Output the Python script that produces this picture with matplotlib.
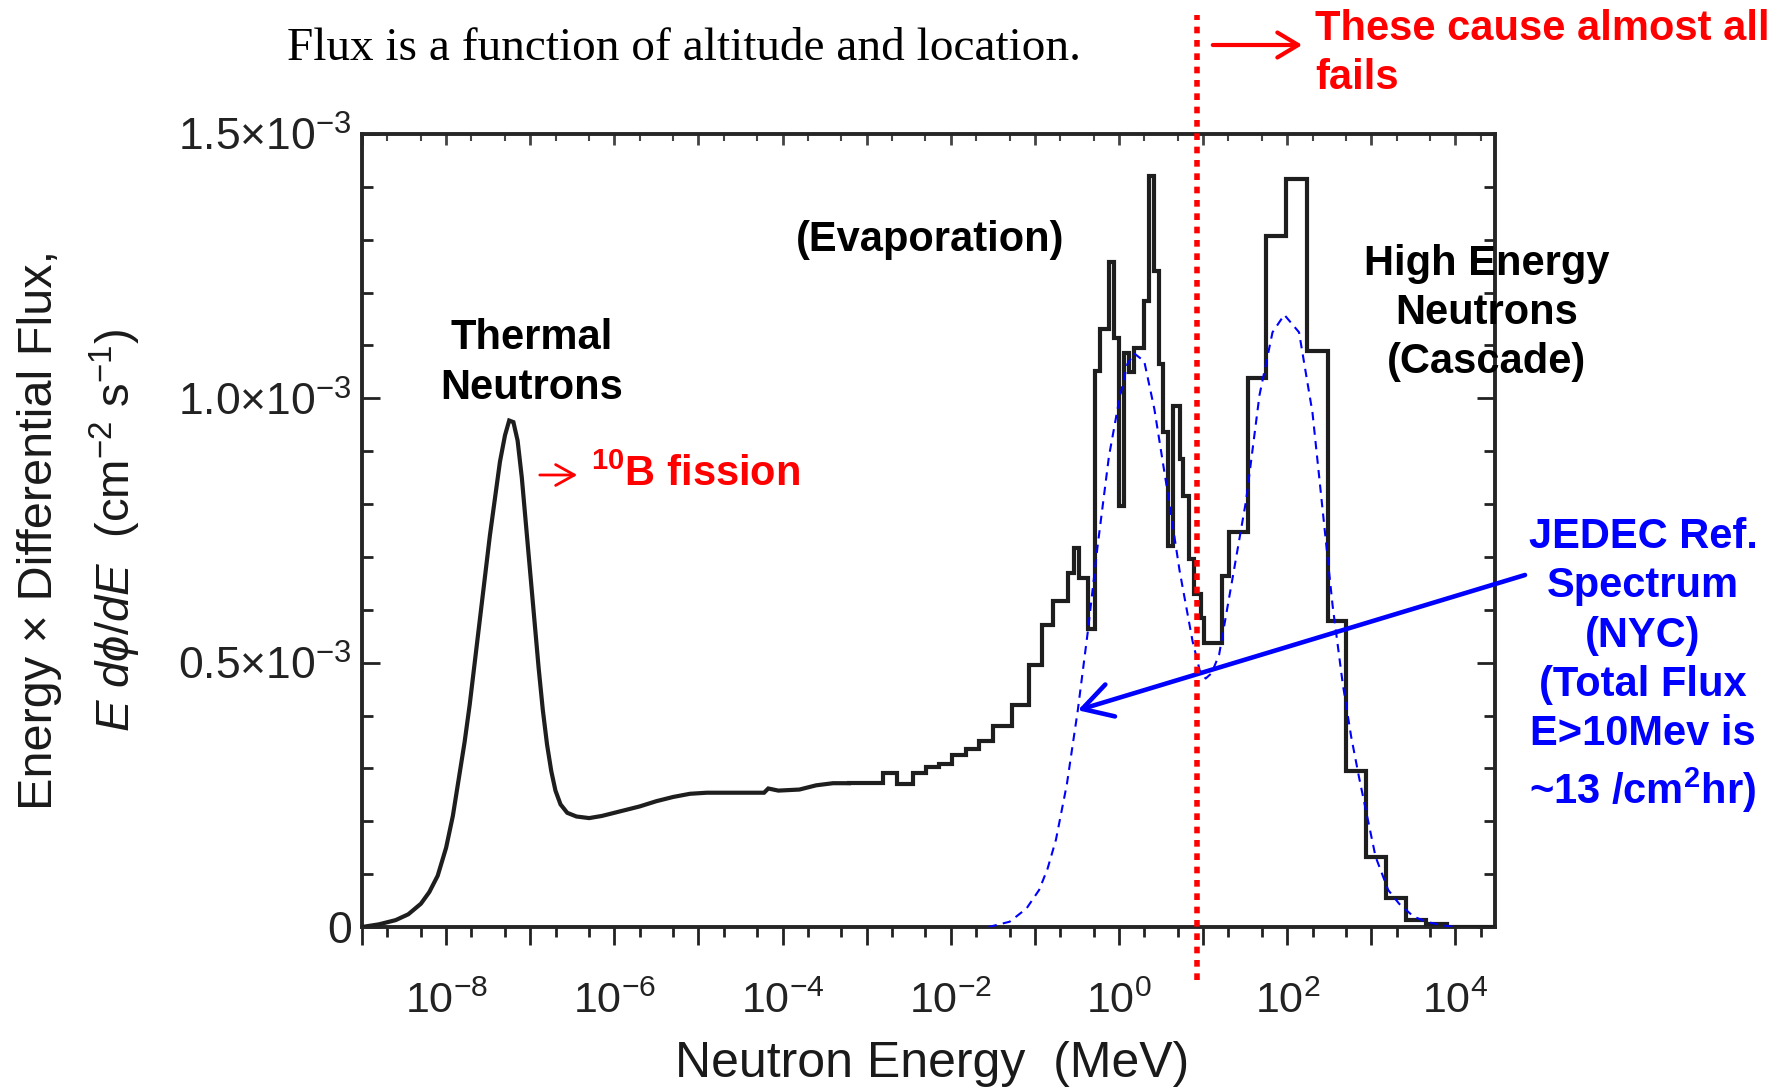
import numpy as np
import matplotlib.pyplot as plt
from matplotlib.ticker import FixedLocator, LogLocator, MultipleLocator, NullFormatter

plt.rcParams['font.family'] = ['Liberation Sans', 'DejaVu Sans']
plt.rcParams['mathtext.fontset'] = 'custom'
plt.rcParams['mathtext.rm'] = 'Liberation Sans'
plt.rcParams['mathtext.it'] = 'Liberation Sans:italic'
plt.rcParams['mathtext.bf'] = 'Liberation Sans:bold'

W, H = 1783, 1089

# measured spectrum, thermal + epithermal part (fine binning, drawn as a curve)
# log10(E / MeV) and E dphi/dE in 1e-3 /cm2/s
epi_log_e = [-9.0, -8.8, -8.6, -8.45, -8.3, -8.2, -8.1, -8.0, -7.92, -7.85,
             -7.78, -7.72, -7.66, -7.6, -7.54, -7.48, -7.42, -7.36, -7.3, -7.25,
             -7.2, -7.15, -7.1, -7.05, -7.0, -6.95, -6.9, -6.85, -6.8, -6.75,
             -6.7, -6.64, -6.56, -6.45, -6.3, -6.15, -6.0, -5.85, -5.7, -5.5,
             -5.3, -5.1, -4.9, -4.22, -4.17, -4.05, -3.8, -3.6, -3.4, -3.21]
epi_flux = [0.0, 0.005, 0.013, 0.024, 0.044, 0.066, 0.097, 0.15, 0.21, 0.28,
            0.35, 0.42, 0.50, 0.58, 0.66, 0.74, 0.81, 0.88, 0.93, 0.958,
            0.955, 0.92, 0.85, 0.76, 0.67, 0.58, 0.49, 0.41, 0.345, 0.295,
            0.258, 0.232, 0.216, 0.209, 0.206, 0.21, 0.216, 0.222, 0.228, 0.238,
            0.246, 0.252, 0.254, 0.254, 0.262, 0.258, 0.26, 0.268, 0.272, 0.272]

# measured spectrum, fast part (coarse bins, drawn as steps)
fast_log_e = [-3.21, -2.81, -2.64, -2.455, -2.3, -2.14, -1.98, -1.82, -1.66, -1.5,
              -1.27, -1.07, -0.91, -0.79, -0.61, -0.53, -0.47, -0.37, -0.29, -0.23,
              -0.12, -0.06, 0.0, 0.06, 0.12, 0.18, 0.3, 0.36, 0.42, 0.48,
              0.52, 0.58, 0.64, 0.72, 0.76, 0.835, 0.894, 0.974, 1.013, 1.23,
              1.31, 1.53, 1.75, 1.985, 2.24, 2.48, 2.7, 2.94, 3.17, 3.41,
              3.65, 3.9, 4.47]
fast_flux = [0.272, 0.292, 0.27, 0.292, 0.302, 0.308, 0.326, 0.337, 0.351, 0.381,
             0.42, 0.495, 0.571, 0.617, 0.67, 0.717, 0.66, 0.564, 1.052, 1.132,
             1.258, 1.115, 0.797, 1.085, 1.049, 1.095, 1.185, 1.421, 1.241, 1.065,
             0.936, 0.72, 0.986, 0.886, 0.816, 0.697, 0.63, 0.584, 0.537, 0.664,
             0.747, 1.039, 1.307, 1.415, 1.089, 0.578, 0.296, 0.133, 0.054, 0.014,
             0.006, 0.0, 0.0]

# JEDEC reference spectrum (NYC)
jedec_log_e = [-1.55, -1.3, -1.1, -0.95, -0.85, -0.75, -0.62, -0.49, -0.37, -0.255,
               -0.12, 0.0, 0.1, 0.18, 0.3, 0.42, 0.5, 0.6, 0.72, 0.874,
               0.96, 1.03, 1.1, 1.19, 1.35, 1.51, 1.67, 1.825, 1.965, 2.14,
               2.3, 2.42, 2.54, 2.66, 2.76, 2.855, 3.05, 3.2, 3.33, 3.5,
               3.65, 3.85, 4.0]
jedec_flux = [0.0, 0.01, 0.035, 0.07, 0.11, 0.165, 0.27, 0.41, 0.56, 0.72,
              0.89, 0.995, 1.065, 1.085, 1.07, 0.98, 0.9, 0.8, 0.674, 0.541,
              0.485, 0.47, 0.48, 0.515, 0.66, 0.806, 1.006, 1.125, 1.158, 1.125,
              0.973, 0.79, 0.607, 0.46, 0.36, 0.282, 0.133, 0.07, 0.044, 0.02,
              0.01, 0.003, 0.0]

cut_log_e = 0.93  # threshold marked by the red line

x_major = [10.0 ** k for k in range(-9, 5)]
x_labels = [r'$10^{%d}$' % k if k % 2 == 0 else '' for k in range(-9, 5)]
y_major = [0, 0.5e-3, 1.0e-3, 1.5e-3]
y_labels = [r'0$\qquad$', '0.5×10$^{-3}$', '1.0×10$^{-3}$', '1.5×10$^{-3}$']


def fpx(x, y):
    return x / W, 1 - y / H


fig = plt.figure(figsize=(W / 100, H / 100), dpi=100)
ax = fig.add_axes([362 / W, 1 - 927 / H, (1495 - 362) / W, (927 - 134) / H])

line_kw = dict(color='#1e1e1e', lw=3.0, zorder=3, solid_joinstyle='miter')
ax.plot(10.0 ** np.array(epi_log_e), np.array(epi_flux) * 1e-3, **line_kw)
ax.step(10.0 ** np.array(fast_log_e), np.array(fast_flux) * 1e-3, where='post',
        **line_kw)
ax.plot(10.0 ** np.array(jedec_log_e), np.array(jedec_flux) * 1e-3,
        color='#0000ff', lw=1.5, ls=(0, (4, 3)), zorder=4)

ax.set_xscale('log')
ax.set_xlim(1e-9, 10 ** 4.47)
ax.set_ylim(0, 1.5e-3)

ax.xaxis.set_major_locator(FixedLocator(x_major))
ax.set_xticklabels(x_labels)
ax.xaxis.set_minor_locator(LogLocator(base=10, subs=(2, 5), numticks=30))
ax.xaxis.set_minor_formatter(NullFormatter())
ax.set_yticks(y_major)
ax.set_yticklabels(y_labels)
ax.yaxis.set_minor_locator(MultipleLocator(1e-4))

ax.tick_params(axis='x', which='major', direction='out', length=13, width=2,
               color='#222222', labelsize=31, labelcolor='#222222', pad=26)
ax.tick_params(axis='x', which='minor', direction='out', length=7, width=2,
               color='#222222')
ax.tick_params(axis='y', which='major', direction='in', length=13, width=2,
               color='#222222', labelsize=32, labelcolor='#222222', pad=7,
               left=True, right=True)
ax.tick_params(axis='y', which='minor', direction='in', length=8, width=2,
               color='#222222', left=True, right=True)

top = ax.secondary_xaxis('top')
top.xaxis.set_major_locator(FixedLocator(x_major))
top.xaxis.set_minor_locator(LogLocator(base=10, subs=(2, 5), numticks=30))
top.tick_params(which='major', direction='in', length=8, width=2, color='#444444',
                labeltop=False)
top.tick_params(which='minor', direction='in', length=5, width=1.5, color='#444444')
top.spines['top'].set_visible(False)

for s in ax.spines.values():
    s.set_linewidth(2.8)
    s.set_color('#262626')

ax.set_xlabel('Neutron Energy  (MeV)', fontsize=36, color='#1a1a1a')
ax.xaxis.set_label_coords(0.503, -0.144)

fig.text(*fpx(40, 530), 'Energy × Differential Flux,', rotation=90, fontsize=35,
         ha='center', va='center', color='#1a1a1a')
fig.text(*fpx(115, 530), r'$E\ d\phi/dE$  (cm$^{-2}$ s$^{-1}$)', rotation=90,
         fontsize=34, ha='center', va='center', color='#1a1a1a')

fig.text(*fpx(684, 60), 'Flux is a function of altitude and location.',
         family=['Liberation Serif', 'DejaVu Serif'], fontsize=34,
         ha='center', va='baseline')

# red threshold line with its note
ax.plot([10 ** cut_log_e] * 2, [-0.1e-3, 1.726e-3], color='#ff0000', lw=4,
        ls=(0, (1.2, 1.2)), clip_on=False, zorder=6)
ax.annotate('', xy=fpx(1305, 45), xycoords='figure fraction',
            xytext=fpx(1210, 45), textcoords='figure fraction',
            arrowprops=dict(arrowstyle='->,head_length=0.5,head_width=0.3',
                            color='#ff0000', lw=3, mutation_scale=30))
fig.text(*fpx(1315, 9), 'These cause almost all\nfails', color='#ff0000',
         fontsize=30, fontweight='bold', ha='left', va='top', linespacing=1.3)

ax.text(*fpx(532, 363), 'Thermal\nNeutrons', transform=fig.transFigure,
        fontsize=30, fontweight='bold', ha='center', va='center', linespacing=1.3)
ax.text(*fpx(930, 240), '(Evaporation)', transform=fig.transFigure,
        fontsize=30, fontweight='bold', ha='center', va='center')
ax.text(*fpx(1487, 313), 'High Energy\nNeutrons\n(Cascade)', transform=fig.transFigure,
        fontsize=30, fontweight='bold', ha='center', va='center', linespacing=1.3)

ax.annotate('', xy=fpx(580, 475), xycoords='figure fraction',
            xytext=fpx(537, 475), textcoords='figure fraction',
            arrowprops=dict(arrowstyle='->,head_length=0.45,head_width=0.25',
                            color='#ff0000', lw=2, mutation_scale=30))
fig.text(*fpx(591, 475), r'$^{\mathbf{10}}$B fission', color='#ff0000', fontsize=30,
         fontweight='bold', ha='left', va='center')

# JEDEC annotation pointing at the reference curve
ax.annotate('', xy=(10 ** -0.49, 0.41e-3), xycoords='data',
            xytext=fpx(1525, 575), textcoords='figure fraction',
            arrowprops=dict(arrowstyle='->,head_length=0.7,head_width=0.4',
                            color='#0000ff', lw=3.3, mutation_scale=30,
                            shrinkA=0, shrinkB=0),
            annotation_clip=False)
fig.text(*fpx(1643, 666),
         'JEDEC Ref.\nSpectrum\n(NYC)\n(Total Flux\nE>10Mev is\n~13 /cm$^{\\mathbf{2}}$hr)',
         color='#0000ff', fontsize=30, fontweight='bold', ha='center', va='center',
         linespacing=1.3)

fig.savefig('out.png', dpi=100)
